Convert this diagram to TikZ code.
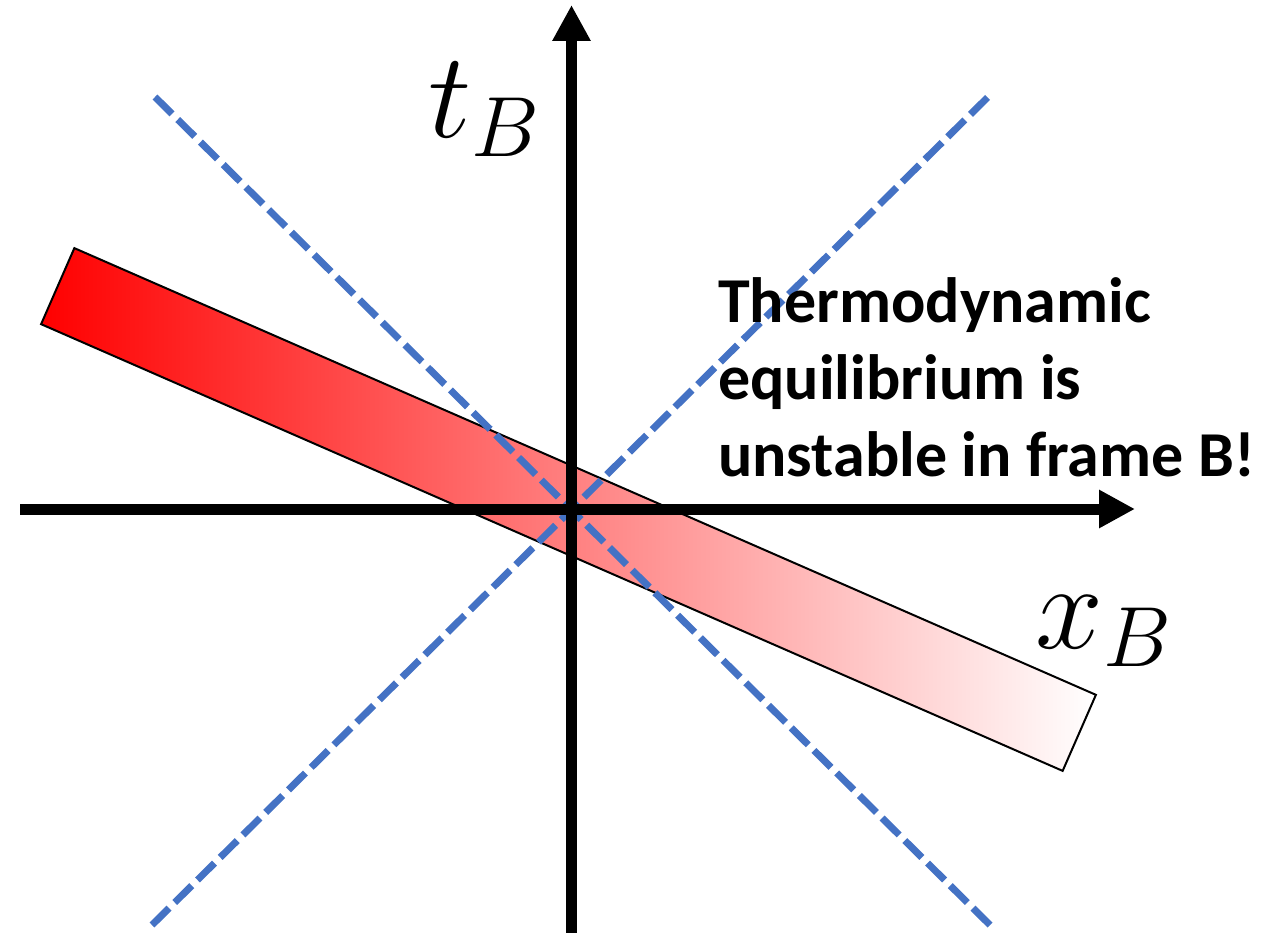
\RequirePackage{fix-cm}
\documentclass[tikz,border=0pt]{standalone}
\usepackage{amsmath}
\usepackage{fontspec}
\setmainfont{Carlito}
\usepackage{tikz}
\usetikzlibrary{arrows.meta,positioning}
\definecolor{lightblue}{HTML}{4472C4}
\definecolor{hotred}{HTML}{FF0000}
\tikzset{
  % axlar
  axis/.style={draw=black,line width=11pt,
               -{Triangle[length=36pt,width=36pt]}},
  lightcone/.style={draw=lightblue,line width=7pt,dash pattern=on 24pt off 8pt},
  band/.style={rectangle,draw=black,line width=2pt,inner sep=0pt,
               minimum width=1115pt,minimum height=83pt,
               left color=hotred,right color=white},
  axlabel/.style={inner sep=0pt,font=\fontsize{122}{122}\selectfont},
  note/.style={inner sep=0pt,align=left,
               font=\fontsize{64}{77}\selectfont\bfseries},
}
\begin{document}
\begin{tikzpicture}[x=1pt,y=-1pt]
\useasboundingbox (0,0) rectangle (1271,933);
  \node[band,rotate=-23.62] (rod) at (568.5,509.5) {};
  \coordinate (c1a) at (155,97);
  \coordinate (c1b) at (992,927);
  \coordinate (c2a) at (152,925);
  \coordinate (c2b) at (988,97);
  \draw[lightcone] (c1a) -- (c1b);
  \draw[lightcone] (c2a) -- (c2b);
  \coordinate (xs) at (20,509);
  \coordinate (xe) at (1135,509);
  \coordinate (ts) at (571.5,933);
  \coordinate (te) at (571.5,5);
  \draw[axis] (xs) -- (xe);
  \draw[axis] (ts) -- (te);
  \node[axlabel,anchor=base west] (tlab) at (428,138) {$t_B$};
  \node[axlabel,anchor=base west] (xlab) at (1035,648) {$x_B$};
  \node[note,anchor=north west] (msg) at (718,277)
    {Thermodynamic\\equilibrium is\\unstable in frame B!};
\end{tikzpicture}
\end{document}
